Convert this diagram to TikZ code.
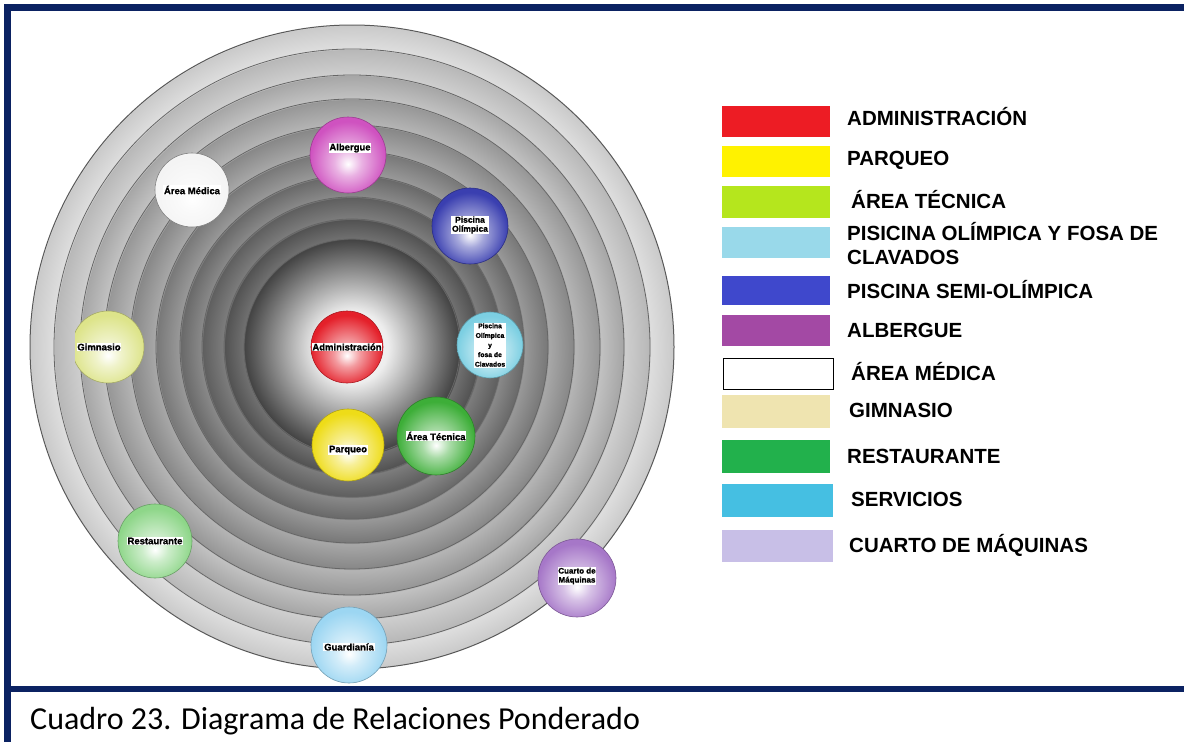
\documentclass[tikz,border=0pt]{standalone}
\usepackage{fontspec}
\setmainfont{Liberation Sans}
\newfontfamily\capfont{Carlito}
\newfontfamily\heavyfont{Liberation Sans}[BoldFeatures={FakeBold=1.2}]

\definecolor{navy}{HTML}{0B2262}
\definecolor{cAdm}{HTML}{ED1C24}
\definecolor{cPar}{HTML}{FFF200}
\definecolor{cTec}{HTML}{B5E61D}
\definecolor{cPis}{HTML}{99D9EA}
\definecolor{cSemi}{HTML}{3F48CC}
\definecolor{cAlb}{HTML}{A349A4}
\definecolor{cGim}{HTML}{EFE4B0}
\definecolor{cRes}{HTML}{22B14C}
\definecolor{cSer}{HTML}{45BFE2}
\definecolor{cCua}{HTML}{C8BFE7}
% ball colours
\definecolor{bAdm}{HTML}{E4202A}
\definecolor{bAlb}{HTML}{CF52C0}
\definecolor{bMed}{HTML}{F4F4F4}
\definecolor{bPol}{HTML}{3A3FB0}
\definecolor{bGim}{HTML}{DDE48A}
\definecolor{bFos}{HTML}{7CCFE2}
\definecolor{bPar}{HTML}{EEDC18}
\definecolor{bTec}{HTML}{3DAE38}
\definecolor{bRes}{HTML}{8ED689}
\definecolor{bGua}{HTML}{9CD6F2}
\definecolor{bCua}{HTML}{A677C8}

\colorlet{bin}{white}
\colorlet{bmid}{white}
\colorlet{bout}{gray}

\pgfdeclareradialshading{rings}{\pgfpoint{0bp}{0bp}}{%
rgb(0bp)=(1,1,1);
rgb(2.8bp)=(0.93,0.93,0.93);
rgb(8.38bp)=(0.26,0.26,0.26);
rgb(8.43bp)=(0.44,0.44,0.44); rgb(9.91bp)=(0.32,0.32,0.32);
rgb(9.96bp)=(0.49,0.49,0.49); rgb(11.62bp)=(0.37,0.37,0.37);
rgb(11.67bp)=(0.54,0.54,0.54); rgb(13.33bp)=(0.41,0.41,0.41);
rgb(13.38bp)=(0.60,0.60,0.60); rgb(15.19bp)=(0.47,0.47,0.47);
rgb(15.24bp)=(0.66,0.66,0.66); rgb(17.21bp)=(0.53,0.53,0.53);
rgb(17.26bp)=(0.71,0.71,0.71); rgb(19.23bp)=(0.59,0.59,0.59);
rgb(19.28bp)=(0.76,0.76,0.76); rgb(21.09bp)=(0.65,0.65,0.65);
rgb(21.14bp)=(0.81,0.81,0.81); rgb(23.11bp)=(0.72,0.72,0.72);
rgb(23.16bp)=(0.87,0.87,0.87); rgb(25bp)=(0.79,0.79,0.79);
rgb(25.05bp)=(1,1,1); rgb(50bp)=(1,1,1)}

\pgfdeclareradialshading[bin,bmid,bout]{myball}{\pgfpoint{0bp}{-6bp}}{%
color(0bp)=(bin); color(9bp)=(bmid); color(25bp)=(bout); color(50bp)=(bout)}

\begin{document}
\begin{tikzpicture}[x=1pt,y=-1pt,
  ringline/.style={draw=black!60, line width=0.8pt},
  outerline/.style={draw=black!65, line width=1pt},
  ball/.style={circle, inner sep=0pt, minimum size=74pt, line width=0.6pt,
    draw=#1!75!black,
    /utils/exec={\colorlet{bin}{white}\colorlet{bmid}{#1!45!white}\colorlet{bout}{#1}},
    shading=myball},
  lbl/.style={fill=white, inner sep=0.8pt, align=center,
    font=\heavyfont\bfseries\fontsize{9.5}{10}\selectfont},
  legbox/.style={draw=none, minimum width=108pt, minimum height=31pt, inner sep=0pt, anchor=north west},
  leg/.style={anchor=base west, inner sep=0pt, font=\bfseries\fontsize{20.5}{22}\selectfont}
]
\useasboundingbox (0,0) rectangle (1184,742);
\fill[white] (0,0) rectangle (1184,742);

% frame
\fill[navy] (4,4) rectangle (1184,11);
\fill[navy] (4,4) rectangle (11,742);
\fill[navy] (4,686) rectangle (1184,692);

% concentric rings
\coordinate (C) at (352,347);
\shade[shading=rings] (C) circle [radius=322pt];
\foreach \r in {108,128,150,172,196,222,248,272,298}
  \draw[ringline] (C) circle [radius=\r pt];
\draw[outerline] (C) circle [radius=322pt];

% balls
\node[ball=bAdm, minimum size=72pt] (adm) at (347,347) {};
\node[lbl] (admL) at (adm.center) {Administración};

\node[ball=bAlb, minimum size=76pt] (alb) at (348,155) {};
\node[lbl] (albL) at (350,148) {Albergue};

\node[ball=bMed, minimum size=74pt, draw=black!50] (med) at (192,190) {};
\node[lbl] (medL) at (med.center) {Área Médica};

\node[ball=bPol, minimum size=76pt] (pol) at (470,226) {};
\node[lbl, font=\heavyfont\bfseries\fontsize{8.5}{9}\selectfont] (polL) at (470,225) {Piscina\\Olímpica};

\begin{scope}
\clip (75,290) rectangle (160,400);
\node[ball=bGim, minimum size=72pt] (gim) at (108,347) {};
\end{scope}
\node[lbl] (gimL) at (99,347) {Gimnasio};

\node[ball=bFos, minimum size=66pt] (fos) at (490,345) {};
\node[lbl, font=\heavyfont\bfseries\fontsize{6.8}{9.6}\selectfont] (fosL) at (fos.center) {Piscina\\Olímpica\\y\\fosa de\\Clavados};

\node[ball=bPar, minimum size=72pt] (par) at (348,445) {};
\node[lbl] (parL) at (348,450) {Parqueo};

\node[ball=bTec, minimum size=78pt] (tec) at (436,436) {};
\node[lbl] (tecL) at (tec.center) {Área Técnica};

\node[ball=bRes, minimum size=74pt] (res) at (155,541) {};
\node[lbl] (resL) at (res.center) {Restaurante};

\node[ball=bGua, minimum size=76pt] (gua) at (349,645) {};
\node[lbl] (guaL) at (349,647) {Guardianía};

\node[ball=bCua, minimum size=78pt] (cua) at (577,578) {};
\node[lbl, font=\heavyfont\bfseries\fontsize{8}{9}\selectfont] (cuaL) at (577,576) {Cuarto de\\Máquinas};

% legend
\node[legbox, fill=cAdm] (k1) at (722,106) {};
\node[legbox, fill=cPar] (k2) at (722,146) {};
\node[legbox, fill=cTec, minimum height=32pt] (k3) at (722,186) {};
\node[legbox, fill=cPis] (k4) at (722,227) {};
\node[legbox, fill=cSemi, minimum height=29pt] (k5) at (722,276) {};
\node[legbox, fill=cAlb] (k6) at (722,315) {};
\node[legbox, fill=white, draw=black, line width=1.2pt, minimum width=110pt] (k7) at (723,358) {};
\node[legbox, fill=cGim, minimum height=33pt] (k8) at (722,395) {};
\node[legbox, fill=cRes, minimum height=33pt] (k9) at (722,440) {};
\node[legbox, fill=cSer, minimum height=33pt, minimum width=111pt] (k10) at (722,484) {};
\node[legbox, fill=cCua, minimum height=32pt, minimum width=111pt] (k11) at (722,530) {};

\node[leg] (t1) at (847,125.5) {ADMINISTRACIÓN};
\node[leg] (t2) at (847,165.5) {PARQUEO};
\node[leg] (t3) at (851,208.5) {ÁREA TÉCNICA};
\node[leg] (t4a) at (847,240.5) {PISICINA OLÍMPICA Y FOSA DE};
\node[leg] (t4b) at (847,264.5) {CLAVADOS};
\node[leg] (t5) at (847,298.5) {PISCINA SEMI-OLÍMPICA};
\node[leg] (t6) at (847,337.5) {ALBERGUE};
\node[leg] (t7) at (851,380.5) {ÁREA MÉDICA};
\node[leg] (t8) at (849,417.5) {GIMNASIO};
\node[leg] (t9) at (847,463.5) {RESTAURANTE};
\node[leg] (t10) at (851,506.5) {SERVICIOS};
\node[leg] (t11) at (849,552.5) {CUARTO DE MÁQUINAS};

% caption
\node[anchor=base west, inner sep=0pt, font=\capfont\fontsize{32}{34}\selectfont] (cap) at (30,729) {Cuadro 23. Diagrama de Relaciones Ponderado};
\end{tikzpicture}
\end{document}
